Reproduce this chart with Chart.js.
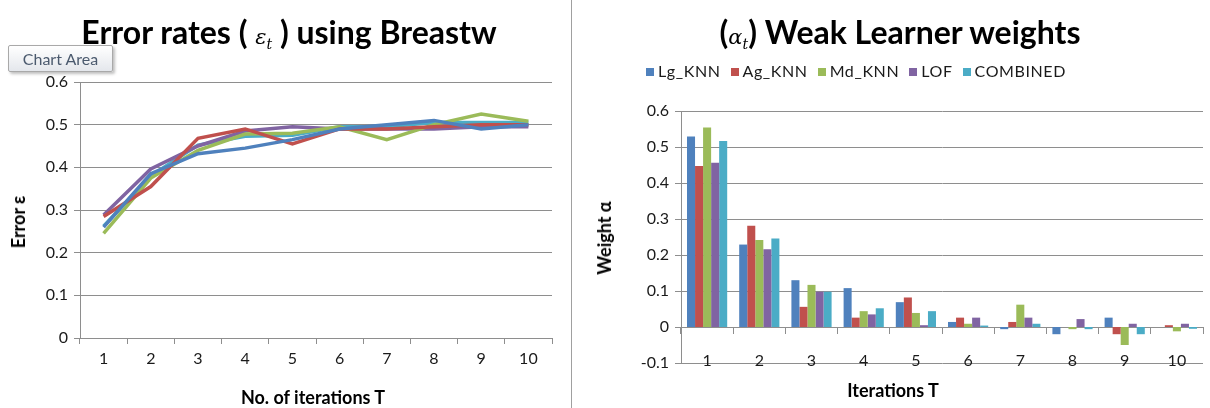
<!DOCTYPE html>
<html>
<head>
<meta charset="utf-8">
<script src="https://cdn.jsdelivr.net/npm/chart.js@4.4.1/dist/chart.umd.min.js"></script>
<style>
body { margin:0; width:1210px; height:408px; background:#fff; position:relative; overflow:hidden; font-family:Lato, "Noto Sans", sans-serif; }
canvas { position:absolute; top:0; }
#errorChart { left:0; }
#weightChart { left:575px; }
.sep { position:absolute; left:571px; top:0; width:1px; height:408px; background:#a0a0a0; }
.ttl { position:absolute; top:12px; font-weight:bold; font-size:32px; line-height:40px; white-space:nowrap; transform:translateX(-50%); color:#000; }
.ttl .m { font-family:"DejaVu Serif", serif; font-style:italic; font-weight:normal; font-size:21px; }
.ttl sub { font-size:14px; }
.axt { position:absolute; font-weight:bold; font-size:18px; line-height:22px; white-space:nowrap; color:#000; transform:translate(-50%,-50%); }
.axt.rot { transform:translate(-50%,-50%) rotate(-90deg); }
.tip { position:absolute; left:8px; top:45px; width:105px; height:27px; box-sizing:border-box; border:1px solid #a9a9a9; border-radius:2px;
  background:linear-gradient(#ffffff,#e4e7ec); box-shadow:2px 2px 3px rgba(0,0,0,0.25); font-size:16px; line-height:25px; text-align:center; color:#4b5a6e; }
#legend { position:absolute; top:61px; left:646px; display:flex; gap:10px; font-size:16px; line-height:20px; letter-spacing:0.6px; color:#1a1a1a; white-space:nowrap; }
#legend span.b { display:inline-block; width:8px; height:8px; margin-right:4px; vertical-align:1px; }
</style>
</head>
<body>
<canvas id="errorChart" width="570" height="408"></canvas>
<canvas id="weightChart" width="635" height="408"></canvas>
<div class="sep"></div>
<div class="ttl" style="left:289px">Error rates ( <span class="m">ε<sub>t</sub></span> ) using Breastw</div>
<div class="ttl" style="left:900px">(<span class="m">α<sub>t</sub></span>) Weak Learner weights</div>
<div class="tip">Chart Area</div>
<div class="axt rot" style="left:18px; top:222px">Error ε</div>
<div class="axt" style="left:313px; top:397px">No. of iterations T</div>
<div class="axt rot" style="left:604px; top:238px">Weight α</div>
<div class="axt" style="left:893px; top:390px">Iterations T</div>
<div id="legend"></div>
<script>
// categories
var iterations = ['1', '2', '3', '4', '5', '6', '7', '8', '9', '10'];
var learners = ['Lg_KNN', 'Ag_KNN', 'Md_KNN', 'LOF', 'COMBINED'];
var colours = ['#4F81BD', '#C0504D', '#9BBB59', '#8064A2', '#4BACC6'];

// error rates (left chart)
var errLgKnn    = [0.260, 0.385, 0.432, 0.445, 0.465, 0.490, 0.500, 0.510, 0.490, 0.500];
var errAgKnn    = [0.285, 0.355, 0.468, 0.490, 0.455, 0.490, 0.490, 0.495, 0.500, 0.500];
var errMdKnn    = [0.245, 0.375, 0.440, 0.478, 0.480, 0.495, 0.465, 0.500, 0.525, 0.508];
var errLof      = [0.288, 0.396, 0.450, 0.485, 0.495, 0.490, 0.490, 0.490, 0.495, 0.495];
var errCombined = [0.262, 0.380, 0.452, 0.473, 0.475, 0.495, 0.495, 0.505, 0.505, 0.505];

// weak learner weights (right chart)
var wLgKnn    = [0.529, 0.229, 0.130, 0.108, 0.069, 0.014, -0.006, -0.020, 0.026, 0.000];
var wAgKnn    = [0.447, 0.281, 0.056, 0.026, 0.082, 0.026, 0.014, 0.000, -0.020, 0.005];
var wMdKnn    = [0.554, 0.242, 0.117, 0.044, 0.039, 0.009, 0.062, -0.006, -0.050, -0.012];
var wLof      = [0.456, 0.216, 0.098, 0.035, 0.005, 0.026, 0.026, 0.022, 0.009, 0.009];
var wCombined = [0.517, 0.246, 0.098, 0.052, 0.044, 0.004, 0.009, -0.006, -0.020, -0.005];

var errSeries = [errLgKnn, errAgKnn, errMdKnn, errLof, errCombined];
var weightSeries = [wLgKnn, wAgKnn, wMdKnn, wLof, wCombined];

var gridCol = '#8e8e8e';
var tickFont = { family: 'Lato', size: 16 };

// excel shows 0 not -0.0
function tenths(v) { return String(Math.round(v * 10) / 10); }

function buildErrors() {
	var ctx = document.getElementById('errorChart');
	var chart = new Chart(ctx, {
		type: 'line',
		data: {
			labels: iterations,
			datasets: errSeries.map(function (d, i) {
				return { label: learners[i], data: d, borderColor: colours[i], backgroundColor: colours[i],
					borderWidth: 3.5, pointRadius: 0, tension: 0 };
			})
		},
		options: {
			responsive: false,
			animation: false,
			layout: { padding: { left: 0, right: 18, top: 82, bottom: 0 } },
			plugins: { legend: { display: false }, tooltip: { enabled: false } },
			scales: {
				x: {
					offset: true,
					grid: { offset: true, drawOnChartArea: false, tickLength: 6, color: gridCol },
					border: { color: gridCol },
					ticks: { font: tickFont, color: '#1a1a1a', padding: 5 },
					afterFit: function (s) { s.height = 70; }
				},
				y: {
					min: 0, max: 0.6,
					grid: { color: gridCol, tickLength: 6 },
					border: { color: gridCol },
					ticks: { stepSize: 0.1, font: tickFont, color: '#1a1a1a', padding: 6, callback: tenths },
					afterFit: function (s) { s.width = 80; }
				}
			}
		}
	});
	return chart;
}

function buildWeights() {
	var ctx = document.getElementById('weightChart');
	var chart = new Chart(ctx, {
		type: 'bar',
		data: {
			labels: iterations,
			datasets: weightSeries.map(function (d, i) {
				return { label: learners[i], data: d, backgroundColor: colours[i],
					categoryPercentage: 0.77, barPercentage: 1.0 };
			})
		},
		options: {
			responsive: false,
			animation: false,
			layout: { padding: { left: 0, right: 7, top: 111, bottom: 45 } },
			plugins: { legend: { display: false }, tooltip: { enabled: false } },
			scales: {
				x: {
					position: { y: 0 },
					grid: { offset: true, drawOnChartArea: false, tickLength: 6, color: gridCol },
					border: { color: gridCol },
					ticks: { font: tickFont, color: '#1a1a1a', padding: 18 }
				},
				y: {
					min: -0.1, max: 0.6,
					grid: { color: gridCol, tickLength: 6 },
					border: { color: gridCol },
					ticks: { stepSize: 0.1, font: tickFont, color: '#1a1a1a', padding: 6, callback: tenths },
					afterFit: function (s) { s.width = 106; }
				}
			}
		}
	});
	return chart;
}

function buildLegend() {
	var box = document.getElementById('legend');
	learners.forEach(function (name, i) {
		var item = document.createElement('div');
		item.innerHTML = '<span class="b" style="background:' + colours[i] + '"></span>' + name;
		box.appendChild(item);
	});
}

window.errorChart = buildErrors();
window.weightChart = buildWeights();
buildLegend();
</script>
</body>
</html>
